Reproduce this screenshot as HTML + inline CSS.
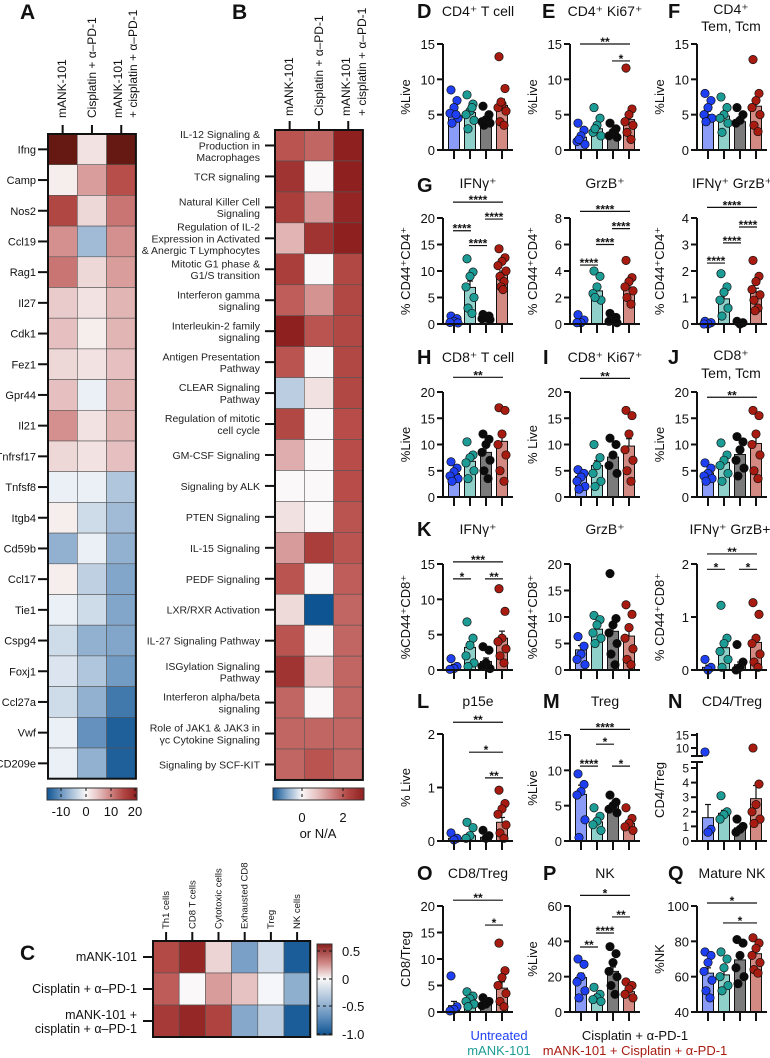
<!DOCTYPE html>
<html><head><meta charset="utf-8">
<style>
html,body{margin:0;padding:0;background:#fff;}
svg{display:block;font-family:"Liberation Sans",Arial,sans-serif;}
</style></head>
<body>
<svg id="fig" width="770" height="1058" viewBox="0 0 770 1058" xmlns="http://www.w3.org/2000/svg"></svg>
<script>
// ---------- Heatmap A data ----------
const A_genes = ["Ifng","Camp","Nos2","Ccl19","Rag1","Il27","Cdk1","Fez1","Gpr44","Il21","Tnfrsf17","Tnfsf8","Itgb4","Cd59b","Ccl17","Tie1","Cspg4","Foxj1","Ccl27a","Vwf","CD209e"];
const A_mank = [26,1,15,9,11,4,5,3,5,9,3,-1,1,-7,1,-1,-3,-2,-3,-1,-1];
const A_cis  = [2,8,3,-6,3,2,1,2,-1,2,2,-1,-3,-1,-4,-3,-7,-5,-7,-10,-7];
const A_combo= [26,14,11,9,8,6,6,5,6,6,5,-5,-6,-7,-8,-8,-8,-9,-12,-14,-14];
// ---------- Heatmap B data ----------
const B_paths = [["IL-12 Signaling &","Production in","Macrophages"],["TCR signaling"],["Natural Killer Cell","Signaling"],["Regulation of IL-2","Expression in Activated","& Anergic T Lymphocytes"],["Mitotic G1 phase &","G1/S transition"],["Interferon gamma","signaling"],["Interleukin-2 family","signaling"],["Antigen Presentation","Pathway"],["CLEAR Signaling","Pathway"],["Regulation of mitotic","cell cycle"],["GM-CSF Signaling"],["Signaling by ALK"],["PTEN Signaling"],["IL-15 Signaling"],["PEDF Signaling"],["LXR/RXR Activation"],["IL-27 Signaling Pathway"],["ISGylation Signaling","Pathway"],["Interferon alpha/beta","signaling"],["Role of JAK1 & JAK3 in","γc Cytokine Signaling"],["Signaling by SCF-KIT"]];
const B_mank = [2.0,2.6,2.4,0.9,2.4,1.9,3.0,2.0,-0.4,2.2,1.0,0,0.3,1.2,2.0,0.4,2.0,2.6,1.8,1.8,1.8];
const B_cis  = [1.8,0,1.2,2.6,0,1.3,2.0,0,0.3,0,0,0,0,2.4,0,-1.4,0,0.7,0,1.8,2.0];
const B_combo= [3.0,3.0,2.9,3.0,2.2,2.2,2.2,2.2,2.2,2.1,2.1,2.1,2.0,2.0,1.9,1.8,1.8,1.8,1.8,1.8,1.8];
// ---------- Heatmap C data ----------
const C_cells = ["Th1 cells","CD8 T cells","Cytotoxic cells","Exhausted CD8","Treg","NK cells"];
const C_groups = [["mANK-101"],["Cisplatin + α–PD-1"],["mANK-101 +","cisplatin + α–PD-1"]];
const C_mank = [0.45,0.6,0.1,-0.6,-0.2,-1.0];
const C_cis  = [0.4,0,0.25,0.15,-0.03,-0.5];
const C_combo= [0.52,0.6,0.48,-0.55,-0.3,-1.0];
// ---------- Bar chart data ----------
const D_means=[5.2,5.3,4.0,6.3]; const D_sem=[0.5,0.5,0.3,0.9];
const D_pts=[[8.5,7,6,5.2,4.5,3.8,5],[7.8,6.5,5.5,5,4.2,3,6],[6.2,5,4.3,4,3.8,3.5,4.5],[13.2,8.7,6.5,6,5.5,4,3.5,6.8]];
const E_means=[1.8,3.0,2.4,4.3]; const E_sem=[0.4,0.5,0.3,0.9];
const E_pts=[[3.8,2.8,2,1.2,0.8,1.5],[6,4.5,3.5,2.5,2,3],[3.8,3,2.5,2,1.8],[11.6,5.8,5,4,3.5,2.5,1.5]];
const F_means=[5.0,4.8,4.0,6.2]; const F_sem=[0.5,0.5,0.3,0.9];
const F_pts=[[8,7,6,5,4.5,4],[7.5,6,5,4.5,3.8,2.5],[6,5,4.2,3.8],[12.8,8,7,6,5,3.5,2.6]];
const G1_means=[0.8,6.9,1.2,9.2]; const G1_sem=[0.3,1.2,0.2,0.8];
const G1_pts=[[1.5,1,0.5,0.3,0.2],[12.3,9.8,9,7,5,3,2],[1.8,1.5,1.2,1,0.8],[14.2,12.5,11.8,11,10,9,8,7,6.5]];
const G2_means=[0.3,2.5,0.4,2.8]; const G2_sem=[0.15,0.3,0.1,0.3];
const G2_pts=[[0.7,0.3,0.1,0.1],[4,3.6,2.8,2.3,1.8,2],[0.8,0.5,0.3,0.2,0.1],[4.8,3.5,3.2,2.8,2.5,2,1.5]];
const G3_means=[0.05,0.95,0.05,1.2]; const G3_sem=[0.03,0.2,0.02,0.15];
const G3_pts=[[0.1,0.05,0,0],[1.9,1.4,1.2,0.9,0.6,0.3],[0.1,0.05,0],[2.4,1.8,1.6,1.3,1.1,0.9,0.6,0.5]];
const H_means=[4.5,6.8,8.5,10.6]; const H_sem=[0.5,0.8,1.0,1.5];
const H_pts=[[6.7,5.5,4.8,4,3.5,3],[10.5,8,7.5,6.5,5,3.5],[12,11,10,8.5,7,5,3.5],[17,16.5,12,10,8,5,3]];
const I_means=[3.9,6.0,7.6,9.7]; const I_sem=[0.4,0.9,0.9,1.4];
const I_pts=[[5.2,4.5,3.8,3,2,1.5],[10,7.5,6,4.5,3,2],[11.2,10,8,6,4.5],[16.5,15.5,12,9,7,5,3]];
const J_means=[4.6,6.6,8.1,10.2]; const J_sem=[0.5,0.8,0.9,1.5];
const J_pts=[[6.5,5.5,4.5,4,3.5,3],[10.3,8,7,6,4.5,3],[11.5,10.5,9,7,5.5,4],[16.5,15.5,12,10,8,5,3.5]];
const K1_means=[0.5,3.2,1.2,4.5]; const K1_sem=[0.3,0.8,0.5,1.0];
const K1_pts=[[1.6,0.5,0.2,0.1],[6.8,4.5,3.5,2,1,0.5],[3.3,2.8,1,0.5,0.2],[11.5,8.3,4.5,4,3,2,1]];
const K2_means=[3.8,7.7,7.3,6.4]; const K2_sem=[0.8,0.6,1.5,1.2];
const K2_pts=[[6.3,4.5,3,2,1],[10.3,9.5,8.5,7,6,5],[18.2,9.7,8.5,7,5,3,1],[12.3,10.5,8,6,4,2,1]];
const K3_means=[0.05,0.42,0.1,0.52]; const K3_sem=[0.04,0.1,0.05,0.12];
const K3_pts=[[0.2,0.05,0],[1.22,0.6,0.5,0.35,0.2,0.05],[0.48,0.15,0.05,0],[1.27,1.05,0.6,0.5,0.3,0.15,0.05]];
const L_means=[0.05,0.1,0.07,0.35]; const L_sem=[0.03,0.05,0.03,0.09];
const L_pts=[[0.15,0.05,0.02],[0.35,0.25,0.1,0.05],[0.2,0.1,0.05],[0.95,0.7,0.6,0.5,0.3,0.15,0.05]];
const M_means=[6.6,2.7,5.0,2.5]; const M_sem=[1.3,0.4,0.3,0.4];
const M_pts=[[9.5,8,7,6.5,3,0.5],[4.7,3.5,2.8,2.3,1.5],[6.5,5.5,5,4.5,4],[4.7,3.2,2.5,2,1.5]];
const N_means=[1.6,1.9,0.9,2.9]; const N_sem=[0.9,0.2,0.1,0.9];
const N_pts=[[9,0.8,0.6],[3.1,2,1.8,1.5],[1.5,1,0.8,0.6],[10,3.9,2.5,2,1.5,1.2]];
const O_means=[1.2,2.3,1.7,4.5]; const O_sem=[0.8,0.4,0.2,1.2];
const O_pts=[[6.8,1,0.5,0.2],[3.8,3,2.5,2,1.5,1],[2.7,2,1.5,1.2],[13,7.8,6.5,5,3.5,2,1]];
const P_means=[19.5,9,23,11.5]; const P_sem=[2.5,1,2.5,1.2];
const P_pts=[[30,27,20,17,12,8],[14,10,8,7,6],[37,33,28,23,20,15,10],[17,15,13,10,8]];
const Q_means=[62,61,69.5,73]; const Q_sem=[3,2.5,3,2];
const Q_pts=[[74,72,68,63,58,52,48],[74,70,65,60,55,52],[81,79,72,65,60,56],[82,79,76,72,68,64,62]];

const NS="http://www.w3.org/2000/svg";
const svg=document.getElementById('fig');
function mk(tag,attrs,parent){const e=document.createElementNS(NS,tag);for(const k in attrs)e.setAttribute(k,attrs[k]);(parent||svg).appendChild(e);return e;}
function txt(s,x,y,size,opts,parent){opts=opts||{};const e=mk('text',{x:x,y:y,'font-size':size,fill:opts.fill||'#111','text-anchor':opts.anchor||'start','font-weight':opts.weight||'normal'},parent);if(opts.rot)e.setAttribute('transform','rotate('+opts.rot+' '+x+' '+y+')');e.textContent=s;return e;}

// colour map
function lerp(a,b,t){return a.map((v,i)=>Math.round(v+(b[i]-v)*t));}
const POS=[[250,248,248],[222,170,170],[184,78,74],[138,28,28],[88,24,14]];
const NEG=[[250,250,252],[176,198,220],[100,145,190],[14,84,146]];
function ramp(stops,t){t=Math.max(0,Math.min(1,t));const n=stops.length-1;const i=Math.min(n-1,Math.floor(t*n));const c=lerp(stops[i],stops[i+1],t*n-i);return 'rgb('+c.join(',')+')';}
function colour(v,vneg,vpos){return v>=0?ramp(POS,v/vpos*0.75):ramp(NEG,v/vneg);}

// ---------- Panel A ----------
{
const g=mk('g',{});


txt('A',20,19,21,{weight:'bold'},g);
const x0=48,w=29.3,y0=134,h=30.7;
const cols=[A_mank,A_cis,A_combo];
cols.forEach((col,c)=>{col.forEach((v,r)=>{const cell=mk('rect',{x:x0+c*w,y:y0+r*h,width:w,height:h,fill:colour(v,-15,21),stroke:'#555','stroke-width':0.6},g);

});});
mk('rect',{x:x0,y:y0,width:3*w,height:A_genes.length*h,fill:'none',stroke:'#111','stroke-width':2},g);
A_genes.forEach((gn,r)=>{const yy=y0+r*h+h/2;mk('line',{x1:38,x2:x0,y1:yy,y2:yy,stroke:'#111','stroke-width':2},g);
const t=txt(gn,36,yy+4,11,{anchor:'end'},g);});
[0,1,2].forEach(c=>{const xx=x0+c*w+w/2;mk('line',{x1:xx,x2:xx,y1:y0-9,y2:y0,stroke:'#111','stroke-width':2},g);});
txt('mANK-101',66,118,12,{rot:-90},g);
txt('Cisplatin + α–PD-1',96,118,12,{rot:-90},g);
txt('mANK-101',122,118,12,{rot:-90},g);
txt('+ cisplatin + α–PD-1',137,118,12,{rot:-90},g);
// colorbar
const defs=mk('defs',{});
const lg=mk('linearGradient',{id:'gA',x1:0,x2:1,y1:0,y2:0},defs);
[-15.6,-10,-5,0,5,10,15,20.4].forEach(v=>{mk('stop',{offset:((v+15.6)/36).toFixed(3),'stop-color':colour(v,-15.6,21)},lg);});
const cb=mk('rect',{x:47,y:788,width:90,height:12,fill:'url(#gA)',stroke:'#333','stroke-width':1},g);

[[-10,61],[0,86],[10,111],[20,135]].forEach(([v,x])=>{mk('line',{x1:x,x2:x,y1:788,y2:800,stroke:'#111','stroke-width':1,'stroke-dasharray':'3,3'},g);txt(String(v),x,816,13,{anchor:'middle'},g);});
}
// ---------- Panel B ----------
{
const g=mk('g',{});


txt('B',232,19,21,{weight:'bold'},g);
const x0=275,w=29.3,y0=130,h=30.95;
const cols=[B_mank,B_cis,B_combo];
cols.forEach((col,c)=>{col.forEach((v,r)=>{const cell=mk('rect',{x:x0+c*w,y:y0+r*h,width:w,height:h,fill:colour(v,-1.4,3.1),stroke:'#555','stroke-width':0.6},g);

});});
mk('rect',{x:x0,y:y0,width:3*w,height:B_paths.length*h,fill:'none',stroke:'#111','stroke-width':2},g);
B_paths.forEach((lines,r)=>{const yy=y0+r*h+h/2;mk('line',{x1:265,x2:x0,y1:yy,y2:yy,stroke:'#111','stroke-width':2},g);
const lh=11.7;const start=yy-(lines.length-1)*lh/2+4;
lines.forEach((ln,i)=>{const t=txt(ln,260,start+i*lh,10.5,{anchor:'end',fill:'#222'},g);});});
[0,1,2].forEach(c=>{const xx=x0+c*w+w/2;mk('line',{x1:xx,x2:xx,y1:y0-9,y2:y0,stroke:'#111','stroke-width':2},g);});
txt('mANK-101',293,116,12,{rot:-90},g);
txt('Cisplatin + α–PD-1',323,116,12,{rot:-90},g);
txt('mANK-101',350,116,12,{rot:-90},g);
txt('+ cisplatin + α–PD-1',366,116,12,{rot:-90},g);
const defs=mk('defs',{});
const lg=mk('linearGradient',{id:'gB',x1:0,x2:1,y1:0,y2:0},defs);
[-1.4,-0.7,0,0.75,1.5,2.25,3.0].forEach(v=>{mk('stop',{offset:((v+1.4)/4.4).toFixed(3),'stop-color':colour(v,-1.4,3.1)},lg);});
const cb=mk('rect',{x:273,y:788,width:91,height:12,fill:'url(#gB)',stroke:'#333','stroke-width':1},g);

[[0,302],[2,343]].forEach(([v,x])=>{mk('line',{x1:x,x2:x,y1:788,y2:800,stroke:'#111','stroke-width':1,'stroke-dasharray':'3,3'},g);txt(String(v),x,822,13,{anchor:'middle'},g);});
txt('or N/A',318,838,13,{anchor:'middle'},g);
}
// ---------- Panel C ----------
{
const g=mk('g',{});


txt('C',20,960,21,{weight:'bold'},g);
const x0=153,w=26.2,y0=941,h=32;
const rows=[C_mank,C_cis,C_combo];
rows.forEach((row,r)=>{row.forEach((v,c)=>{const cell=mk('rect',{x:x0+c*w,y:y0+r*h,width:w,height:h,fill:colour(v,-1.05,0.65),stroke:'#555','stroke-width':0.6},g);

});});
mk('rect',{x:x0,y:y0,width:6*w,height:3*h,fill:'none',stroke:'#111','stroke-width':2},g);
C_cells.forEach((cn,c)=>{const xx=x0+c*w+w/2;mk('line',{x1:xx,x2:xx,y1:y0-9,y2:y0,stroke:'#111','stroke-width':2},g);txt(cn,xx+3,929,9.5,{rot:-90},g);});
C_groups.forEach((lines,r)=>{const yy=y0+r*h+h/2;mk('line',{x1:143,x2:x0,y1:yy,y2:yy,stroke:'#111','stroke-width':2},g);
const start=yy-(lines.length-1)*7+4;lines.forEach((ln,i)=>txt(ln,137,start+i*14+ (lines.length>1?1:0),12.5,{anchor:'end'},g));});
const defs=mk('defs',{});
const lg=mk('linearGradient',{id:'gC',x1:0,x2:0,y1:0,y2:1},defs);
[0.65,0.3,0,-0.35,-0.7,-1.05].forEach(v=>{mk('stop',{offset:((0.65-v)/1.7).toFixed(3),'stop-color':colour(v,-1.05,0.65)},lg);});
const cb=mk('rect',{x:317,y:944,width:15,height:91,fill:'url(#gC)',stroke:'#333','stroke-width':1},g);

[['0.5',951],['0',979],['-0.5',1006],['-1.0',1034]].forEach(([s,y])=>{mk('line',{x1:317,x2:332,y1:y,y2:y,stroke:'#111','stroke-width':1,'stroke-dasharray':'3,3'},g);txt(s,342,y+5,13,{},g);});
}

// ---------- Bar panels ----------
const FILL=['#8a9cf7','#8fd0ca','#7b7b7b','#d38a82'];
const PT=['#1f3ff2','#1d9c96','#0b0b0b','#a81b10'];
const JIT=[-3,3,0,-4,4,-2,2,-1,1];
function linScale(min,max,yb,yt){return v=>yb-(v-min)/(max-min)*(yb-yt);}
function nScale(v){if(v<=5)return 841-v/5*73;if(v<10)return 768-(v-5)/5*20;return 748-(v-10)/5*13;}
const panels=[
 {id:'d',means:D_means,sem:D_sem,pts:D_pts,ax:443,yb:150,yt:44,min:0,max:15,ticks:[0,5,10,15],yl:'%Live',sig:[]},
 {id:'e',means:E_means,sem:E_sem,pts:E_pts,ax:570,yb:150,yt:44,min:0,max:15,ticks:[0,5,10,15],yl:'%Live',sig:[[0,3,15,'**'],[2,3,12.6,'*']]},
 {id:'f',means:F_means,sem:F_sem,pts:F_pts,ax:697,yb:150,yt:44,min:0,max:15,ticks:[0,5,10,15],yl:'%Live',sig:[]},
 {id:'g1',means:G1_means,sem:G1_sem,pts:G1_pts,ax:443,yb:324,yt:218,min:0,max:20,ticks:[0,5,10,15,20],yl:'% CD44⁺CD4⁺',sig:[[0,3,23,'****'],[2,3,19.8,'****'],[0,1,17.6,'****'],[1,2,14.8,'****']]},
 {id:'g2',means:G2_means,sem:G2_sem,pts:G2_pts,ax:570,yb:324,yt:218,min:0,max:8,ticks:[0,2,4,6,8],yl:'% CD44⁺CD4⁺',sig:[[0,3,8.5,'****'],[2,3,7.2,'****'],[1,2,6.0,'****'],[0,1,4.45,'****']]},
 {id:'g3',means:G3_means,sem:G3_sem,pts:G3_pts,ax:697,yb:324,yt:218,min:0,max:4,ticks:[0,1,2,3,4],yl:'% CD44⁺CD4⁺',sig:[[0,3,4.4,'****'],[2,3,3.66,'****'],[1,2,3.06,'****'],[0,1,2.3,'****']]},
 {id:'h',means:H_means,sem:H_sem,pts:H_pts,ax:443,yb:497,yt:392,min:0,max:20,ticks:[0,5,10,15,20],yl:'%Live',sig:[[0,3,22.8,'**']]},
 {id:'i',means:I_means,sem:I_sem,pts:I_pts,ax:570,yb:497,yt:392,min:0,max:20,ticks:[0,5,10,15,20],yl:'% Live',sig:[[0,3,22.6,'**']]},
 {id:'j',means:J_means,sem:J_sem,pts:J_pts,ax:697,yb:497,yt:392,min:0,max:20,ticks:[0,5,10,15,20],yl:'%Live',sig:[[0,3,19,'**']]},
 {id:'k1',means:K1_means,sem:K1_sem,pts:K1_pts,ax:443,yb:670,yt:564,min:0,max:15,ticks:[0,5,10,15],yl:'%CD44⁺CD8⁺',sig:[[0,3,15.3,'***'],[0,1,12.9,'*'],[2,3,12.9,'**']]},
 {id:'k2',means:K2_means,sem:K2_sem,pts:K2_pts,ax:570,yb:670,yt:564,min:0,max:20,ticks:[0,5,10,15,20],yl:'%CD44⁺CD8⁺',sig:[]},
 {id:'k3',means:K3_means,sem:K3_sem,pts:K3_pts,ax:697,yb:670,yt:564,min:0,max:2,ticks:[0,1,2],yl:'% CD44⁺CD8⁺',sig:[[0,3,2.19,'**'],[0,1,1.9,'*'],[2,3,1.9,'*']]},
 {id:'l',means:L_means,sem:L_sem,pts:L_pts,ax:443,yb:841,yt:734,min:0,max:2,ticks:[0,1,2],yl:'% Live',sig:[[0,3,2.22,'**'],[1,3,1.66,'*'],[2,3,1.18,'**']]},
 {id:'m',means:M_means,sem:M_sem,pts:M_pts,ax:570,yb:841,yt:735,min:0,max:15,ticks:[0,5,10,15],yl:'%Live',sig:[[0,3,15.8,'****'],[1,2,13.7,'*'],[0,1,10.6,'****'],[2,3,10.6,'*']]},
 {id:'n',means:N_means,sem:N_sem,pts:N_pts,ax:697,broken:true,yl:'CD4/Treg',sig:[]},
 {id:'o',means:O_means,sem:O_sem,pts:O_pts,ax:443,yb:1012,yt:906,min:0,max:20,ticks:[0,5,10,15,20],yl:'CD8/Treg',sig:[[0,3,21.1,'**'],[2,3,16.4,'*']]},
 {id:'p',means:P_means,sem:P_sem,pts:P_pts,ax:570,yb:1012,yt:906,min:0,max:60,ticks:[0,20,40,60],yl:'%Live',sig:[[0,3,66,'*'],[2,3,53.8,'**'],[1,2,44.7,'****'],[0,1,36.8,'**']]},
 {id:'q',means:Q_means,sem:Q_sem,pts:Q_pts,ax:697,yb:1012,yt:906,min:40,max:100,ticks:[40,60,80,100],yl:'%NK',sig:[[0,3,101.7,'*'],[1,3,90.4,'*']]}
];
panels.forEach(p=>{
 const g=mk('g',{});
 
 
 const ys=p.broken?nScale:linScale(p.min,p.max,p.yb,p.yt);
 const yb=p.broken?841:p.yb;
 const xc=i=>p.ax+11+16*i;
 // bars
 p.means.forEach((m,i)=>{const y0=ys(p.broken?0:p.min);const y=ys(m);
  const b=mk('rect',{x:xc(i)-5.5,y:y,width:11,height:y0-y,fill:FILL[i],stroke:'#111','stroke-width':1},g);
  
  
  const ye=ys(m+p.sem[i]);mk('line',{x1:xc(i),x2:xc(i),y1:y,y2:ye,stroke:'#111','stroke-width':1.2},g);mk('line',{x1:xc(i)-3,x2:xc(i)+3,y1:ye,y2:ye,stroke:'#111','stroke-width':1.2},g);
 });
 // points
 p.pts.forEach((arr,i)=>arr.forEach((v,k)=>{const c=mk('circle',{cx:xc(i)+JIT[k%JIT.length],cy:ys(v),r:4.2,fill:PT[i],stroke:'#111','stroke-width':0.7},g);
  
  }));
 // axes
 mk('line',{x1:p.ax,x2:p.ax+70,y1:yb,y2:yb,stroke:'#111','stroke-width':2},g);
 [0,1,2,3].forEach(i=>mk('line',{x1:xc(i),x2:xc(i),y1:yb,y2:yb+9,stroke:'#111','stroke-width':2},g));
 if(p.broken){
  mk('line',{x1:p.ax,x2:p.ax,y1:762,y2:841,stroke:'#111','stroke-width':2},g);
  mk('line',{x1:p.ax,x2:p.ax,y1:733,y2:756,stroke:'#111','stroke-width':2},g);
  mk('line',{x1:p.ax-6,x2:p.ax+6,y1:756,y2:756,stroke:'#111','stroke-width':2},g);
  mk('line',{x1:p.ax-6,x2:p.ax+6,y1:762,y2:762,stroke:'#111','stroke-width':2},g);
  [0,1,2,3,4,5,10,15].forEach(v=>{const y=nScale(v);mk('line',{x1:p.ax-6,x2:p.ax,y1:y,y2:y,stroke:'#111','stroke-width':2},g);txt(String(v),p.ax-8,y+4.5,12,{anchor:'end'},g);});
 } else {
  mk('line',{x1:p.ax,x2:p.ax,y1:p.yt,y2:p.yb,stroke:'#111','stroke-width':2},g);
  p.ticks.forEach(v=>{const y=ys(v);mk('line',{x1:p.ax-6,x2:p.ax,y1:y,y2:y,stroke:'#111','stroke-width':2},g);txt(String(v),p.ax-8,y+5,13,{anchor:'end'},g);});
 }
 const yl=txt(p.yl,p.ax-33,(p.broken?790:(p.yt+p.yb)/2),13,{anchor:'middle',rot:-90},g);
 
 
 p.sig.forEach(([a,b,v,s])=>{const y=ys(v);mk('line',{x1:xc(a)-1,x2:xc(b)+1,y1:y,y2:y,stroke:'#111','stroke-width':1.2},g);txt(s,(xc(a)+xc(b))/2,y+2,12,{anchor:'middle',weight:'bold'},g);});
});
// titles & letters
const titles=[
 ['D',417,18],['E',542,18],['F',668,18],['G',417,192],['H',417,364],['I',543,364],['J',668,364],['K',417,536],['L',417,708],['M',543,708],['N',668,708],['O',417,880],['P',543,880],['Q',668,880]];
titles.forEach(([l,x,y])=>txt(l,x,y,20,{weight:'bold'}));
[['CD4⁺ T cell',478,16],['CD4⁺ Ki67⁺',605,16],['CD4⁺',731,14],['Tem, Tcm',731,31],
 ['IFNγ⁺',478,188],['GrzB⁺',605,188],['IFNγ⁺ GrzB⁺',732,188],
 ['CD8⁺ T cell',478,362],['CD8⁺ Ki67⁺',605,362],['CD8⁺',731,360],['Tem, Tcm',731,378],
 ['IFNγ⁺',478,534],['GrzB⁺',605,534],['IFNγ⁺ GrzB+',730,534],
 ['p15e',478,706],['Treg',605,706],['CD4/Treg',732,706],
 ['CD8/Treg',478,878],['NK',605,878],['Mature NK',732,878]].forEach(([s,x,y])=>{const t=txt(s,x,y,14,{anchor:'middle'});});
// legend
[['Untreated',499,1040,'#1f3ff2'],['mANK-101',499,1055,'#1d9c96'],['Cisplatin + α-PD-1',635,1040,'#111'],['mANK-101 + Cisplatin + α-PD-1',635,1055,'#a81b10']].forEach(([s,x,y,c])=>{const t=txt(s,x,y,13,{anchor:'middle',fill:c});
 
 });
</script>
</body></html>
